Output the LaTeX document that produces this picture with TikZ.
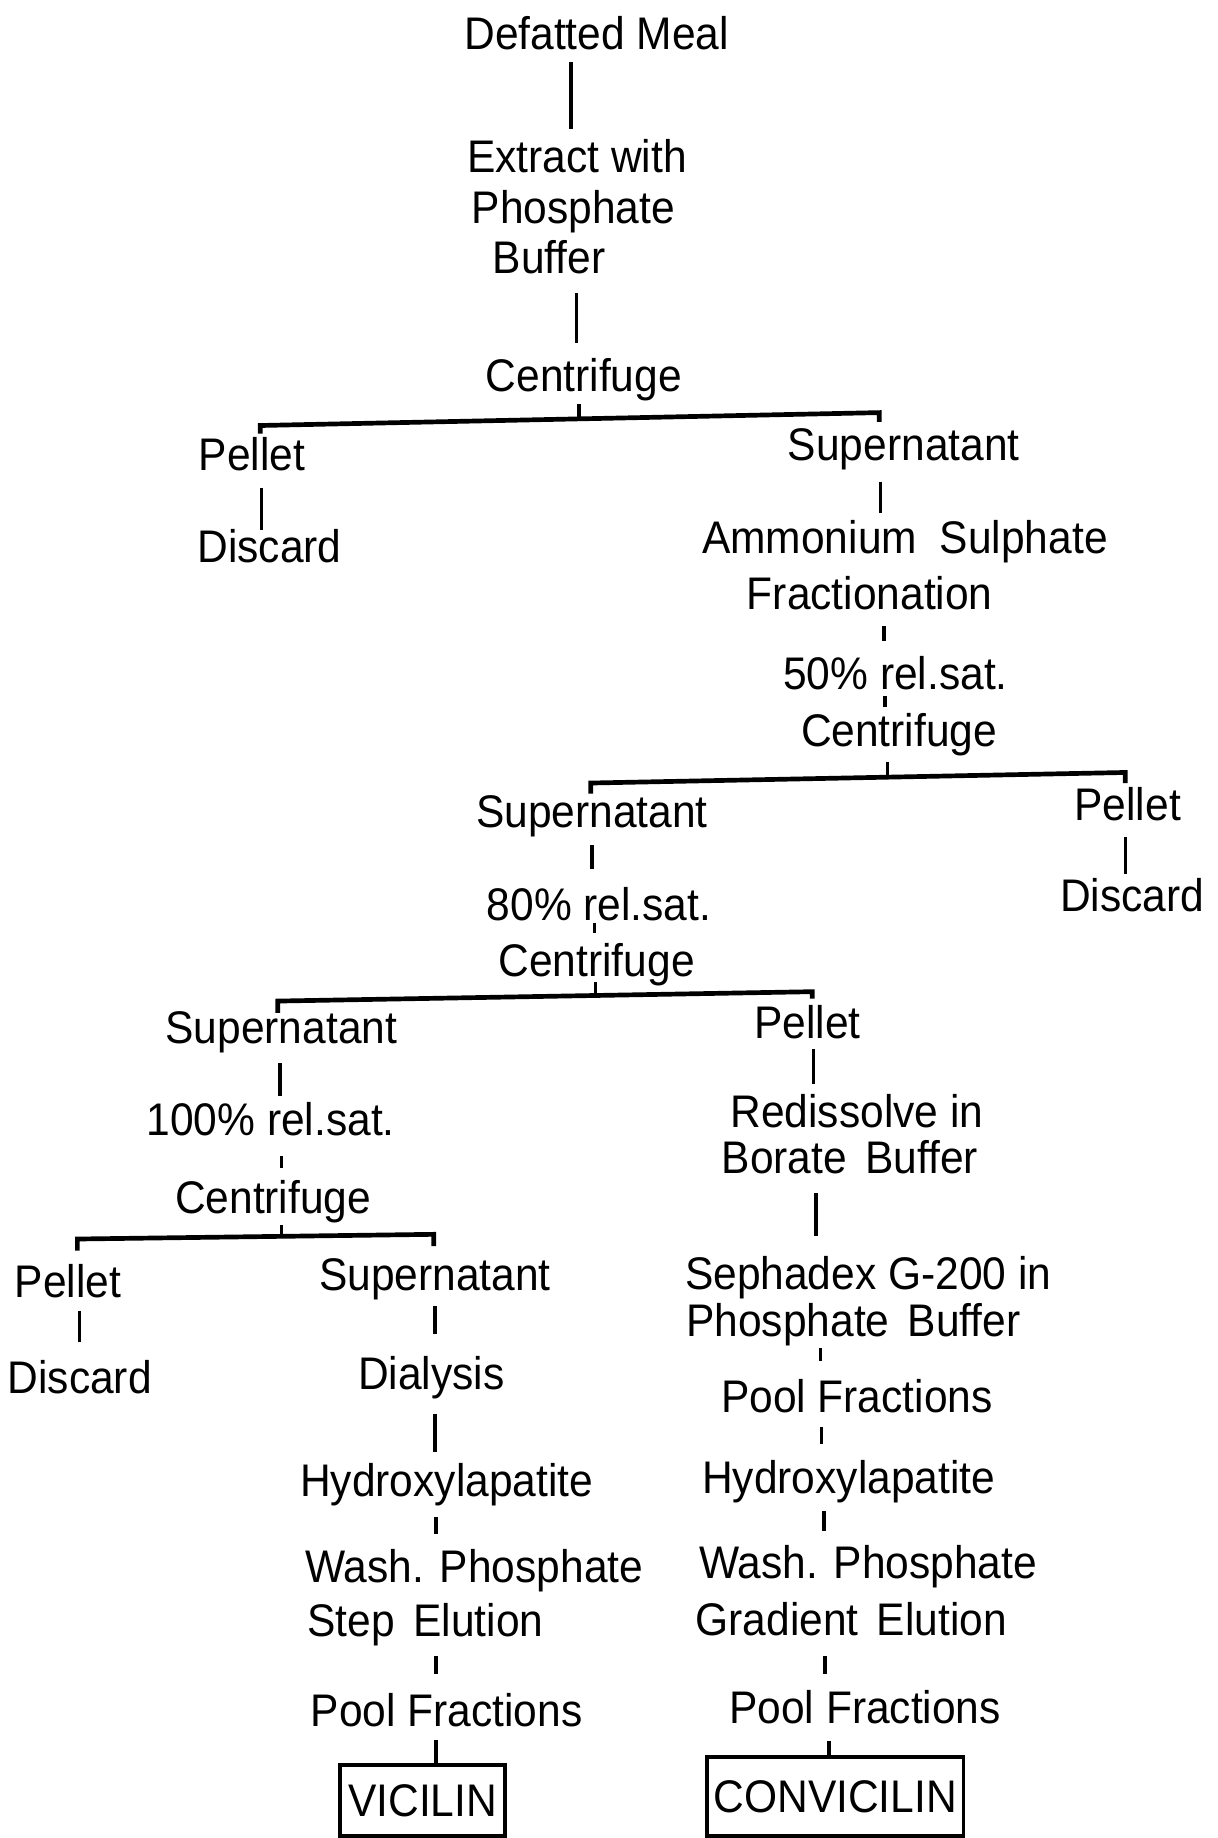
\documentclass[tikz,border=0pt]{standalone}
\usepackage{fontspec}
\setmainfont{Liberation Sans}[FakeStretch=0.93]
\usetikzlibrary{calc}
\newcommand\vl[6]{\draw[link] ($(#1)+(#2,#3)$) -- ($(#4)+(#5,#6)$);}
\begin{document}
\begin{tikzpicture}[x=0.5pt,y=-0.5pt,
  lbl/.style={inner sep=0pt, anchor=base, font=\fontsize{19.5}{23}\selectfont},
  lblw/.style={lbl, anchor=base west},
  link/.style={line width=1.5pt},
  bar/.style={line width=2pt, line join=miter},
  result/.style={draw, line width=1.6pt, inner sep=0pt, font=\fontsize{19.5}{23}\selectfont}]
\useasboundingbox (0,0) rectangle (1039,1568);
% top trunk
\node[lbl]  (n1)  at (509,42)  {Defatted Meal};
\node[lblw] (n2a) at (398,147) {Extract with};
\node[lblw] (n2b) at (402,191) {Phosphate};
\node[lblw] (n2c) at (420,233) {Buffer};
\node[lbl]  (n3)  at (498,334) {Centrifuge};
\node[lbl]  (n4L) at (215,401) {Pellet};
\node[lbl]  (n4R) at (771,393) {Supernatant};
\node[lbl]  (n5L) at (230,480) {Discard};
\node[lbl]  (n5R) at (772,472) {Ammonium\hspace{0.5em}Sulphate};
\node[lbl]  (n6)  at (742,520) {Fractionation};
\node[lbl]  (n7)  at (764,588) {50\% rel.sat.};
\node[lbl]  (n8)  at (767,637) {Centrifuge};
\node[lbl]  (n9L) at (505,706) {Supernatant};
\node[lbl]  (n9R) at (962,700) {Pellet};
\node[lbl]  (n10R) at (966,778) {Discard};
\node[lbl]  (n10L) at (511,785) {80\% rel.sat.};
\node[lbl]  (n11) at (509,833) {Centrifuge};
\node[lbl]  (n12L) at (240,890) {Supernatant};
\node[lbl]  (n12R) at (689,886) {Pellet};
\node[lbl]  (n13L) at (231,969) {100\% rel.sat.};
\node[lbl]  (n14L) at (233,1035) {Centrifuge};
\node[lbl]  (n13R) at (731,962) {Redissolve in};
\node[lbl]  (n13R2) at (725,1001) {Borate\hspace{0.4em}Buffer};
\node[lblw] (n14R) at (584,1100) {Sephadex G-200 in};
\node[lblw] (n14R2) at (585,1140) {Phosphate\hspace{0.4em}Buffer};
\node[lbl]  (n15L) at (58,1107) {Pellet};
\node[lbl]  (n15R) at (371,1101) {Supernatant};
\node[lbl]  (n16L) at (68,1189) {Discard};
\node[lbl]  (n16R) at (368,1185) {Dialysis};
\node[lbl]  (n17) at (381,1277) {Hydroxylapatite};
\node[lblw] (n18) at (260,1350) {Wash. Phosphate};
\node[lblw] (n18b) at (262,1396) {Step\hspace{0.4em}Elution};
\node[lbl]  (n19) at (381,1473) {Pool Fractions};
\node[result, minimum width=70.5pt, minimum height=30pt] (vic) at (360.5,1536) {VICILIN};
\node[lbl]  (r1) at (731,1205) {Pool Fractions};
\node[lbl]  (r2) at (724,1274) {Hydroxylapatite};
\node[lblw] (r3) at (596,1347) {Wash. Phosphate};
\node[lblw] (r3b) at (593,1395) {Gradient\hspace{0.4em}Elution};
\node[lbl]  (r4) at (738,1470) {Pool Fractions};
\node[result, minimum width=109.5pt, minimum height=33.5pt] (conv) at (712.5,1532.5) {CONVICILIN};
% connectors
\vl{n1.base}{-22}{11}{n2a.base west}{89}{-37}
\vl{n2c.base west}{72}{17}{n3.base}{-6}{-41}
% branch 1
\draw[link] ($(n3.base)+(-4,11)$) -- ($(n3.base)+(-4,23)$);
\draw[bar] ($(n4L.base)+(7,-31)$) -- ($(n4L.base)+(7,-38)$) -- ($(n4R.base)+(-21,-41)$) -- ($(n4R.base)+(-21,-33)$);
\vl{n4L.base}{8}{15}{n5L.base}{-7}{-28}
\vl{n4R.base}{-20}{18}{n5R.base}{-21}{-34}
\vl{n6.base}{12}{14}{n7.base}{-10}{-41}
\vl{n7.base}{-9}{6}{n8.base}{-12}{-34}
% branch 2
\draw[link] ($(n8.base)+(-10,13)$) -- ($(n8.base)+(-10,26)$);
\draw[bar] ($(n9L.base)+(-1,-29)$) -- ($(n9L.base)+(-1,-38)$) -- ($(n9R.base)+(-2,-41)$) -- ($(n9R.base)+(-2,-32)$);
\vl{n9R.base}{-2}{14}{n10R.base}{-6}{-32}
\vl{n9L.base}{0}{15}{n10L.base}{-6}{-44}
\vl{n10L.base}{-4}{2}{n11.base}{-2}{-37}
% branch 3
\draw[link] ($(n11.base)+(-1,5)$) -- ($(n11.base)+(-1,17)$);
\draw[bar] ($(n12L.base)+(-3,-26)$) -- ($(n12L.base)+(-3,-36)$) -- ($(n12R.base)+(4,-40)$) -- ($(n12R.base)+(4,-34)$);
\vl{n12L.base}{-1}{17}{n13L.base}{8}{-34}
\vl{n13L.base}{9}{17}{n14L.base}{7}{-39}
\vl{n12R.base}{5}{9}{n13R.base}{-37}{-37}
\vl{n13R2.base}{-29}{17}{n14R.base west}{112}{-46}
% branch 4
\draw[link] ($(n14L.base)+(7,10)$) -- ($(n14L.base)+(7,20)$);
\draw[bar] ($(n15L.base)+(8,-40)$) -- ($(n15L.base)+(8,-50)$) -- ($(n15R.base)+(-1,-48)$) -- ($(n15R.base)+(-1,-38)$);
\vl{n15L.base}{10}{11}{n16L.base}{0}{-44}
\vl{n15R.base}{0}{13}{n16R.base}{3}{-47}
\vl{n16R.base}{3}{21}{n17.base}{-10}{-38}
\vl{n17.base}{-9}{17}{n18.base west}{112}{-41}
\vl{n18b.base west}{110}{17}{n19.base}{-9}{-45}
\vl{n19.base}{-9}{11}{vic.north}{11.5}{0}
% right column
\vl{n14R2.base west}{115}{10}{r1.base}{-31}{-44}
\vl{r1.base}{-30}{12}{r2.base}{-23}{-42}
\vl{r2.base}{-21}{15}{r3.base west}{107}{-41}
\vl{r3b.base west}{111}{18}{r4.base}{-34}{-42}
\vl{r4.base}{-31}{15}{conv.north}{-5.5}{0}
\end{tikzpicture}
\end{document}
